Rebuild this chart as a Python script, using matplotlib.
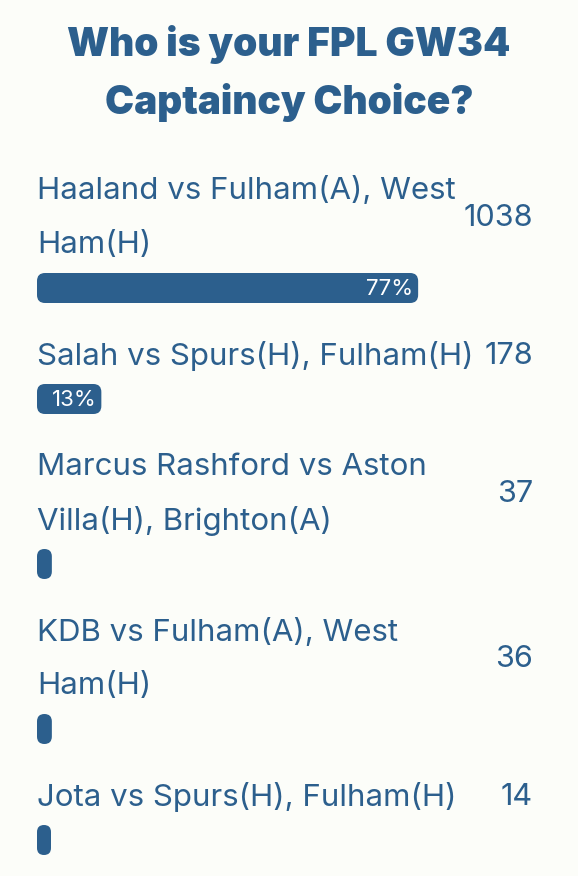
import matplotlib.pyplot as plt
from matplotlib.patches import FancyBboxPatch

# poll data
options = [
    "Haaland vs Fulham(A), West\nHam(H)",
    "Salah vs Spurs(H), Fulham(H)",
    "Marcus Rashford vs Aston\nVilla(H), Brighton(A)",
    "KDB vs Fulham(A), West\nHam(H)",
    "Jota vs Spurs(H), Fulham(H)",
]
votes = [1038, 178, 37, 36, 14]
percents = [77, 13, 3, 3, 1]
pct_labels = ["77%", "13%", "", "", ""]

title = "Who is your FPL GW34\nCaptaincy Choice?"

blue = "#2c5f8d"
bg = "#fcfdf9"
font = "Inter"

W, H = 578, 876
fig = plt.figure(figsize=(W / 100, H / 100), dpi=100)
fig.patch.set_facecolor(bg)
ax = fig.add_axes([0, 0, 1, 1])
ax.set_xlim(0, W)
ax.set_ylim(H, 0)
ax.axis("off")

for i, t in enumerate(title.split("\n")):
    ax.text(W / 2, 45 + i * 58, t, ha="center", va="center",
            fontsize=28, fontweight="black", color=blue, family=font)

x0 = 37
track = 495
line_gap = 54
bar_h = 30
y = 191
for name, v, p, lab in zip(options, votes, percents, pct_labels):
    lines = name.split("\n")
    for i, ln in enumerate(lines):
        ax.text(x0, y + i * line_gap, ln, ha="left", va="center",
                fontsize=22.5, color=blue, family=font)
    ny = y + (len(lines) - 1) * line_gap / 2
    ax.text(x0 + track + 1, ny, str(v), ha="right", va="center",
            fontsize=22, color=blue, family=font)
    by = y + (len(lines) - 1) * line_gap + 28
    w = max(p / 100 * track, 14)
    r = min(8, w / 2)
    ax.add_patch(FancyBboxPatch((x0, by), w, bar_h,
                                boxstyle=f"round,pad=0,rounding_size={r}",
                                fc=blue, ec="none"))
    if lab:
        ax.text(x0 + w - 5, by + bar_h / 2 + 1, lab, ha="right", va="center",
                fontsize=16, color="white", family=font)
    y = by + bar_h + 53

fig.savefig("out.png", dpi=100, facecolor=bg)
